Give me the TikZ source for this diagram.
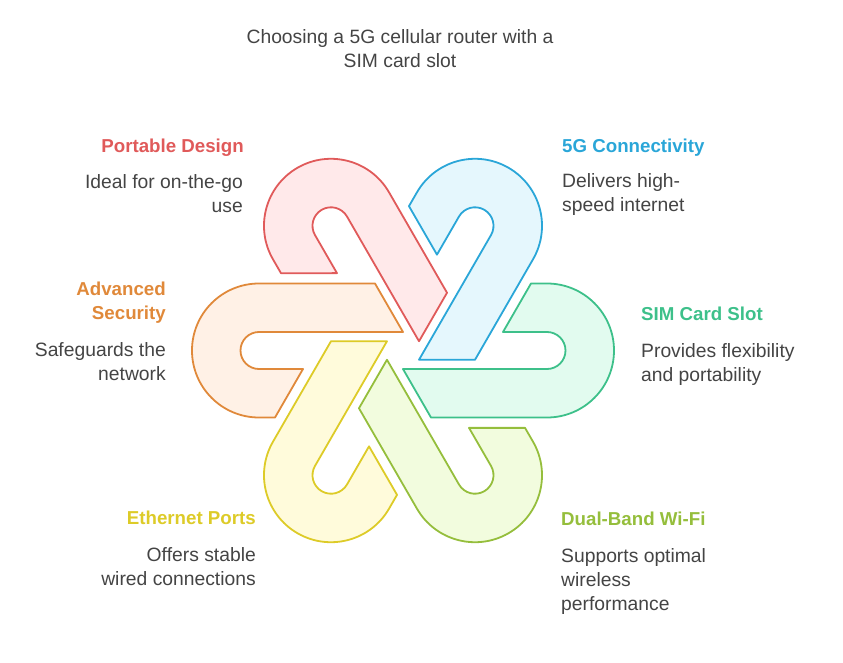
\documentclass[tikz,border=0pt]{standalone}
\usepackage{fontspec}
\setmainfont{Liberation Sans}
\usetikzlibrary{positioning}

\definecolor{redline}{HTML}{E05A5A}
\definecolor{redfill}{HTML}{FFE9EA}
\definecolor{blueline}{HTML}{2AA6D8}
\definecolor{bluefill}{HTML}{E5F7FD}
\definecolor{greenline}{HTML}{3DC08A}
\definecolor{greenfill}{HTML}{E2FBEF}
\definecolor{limeline}{HTML}{95BE3C}
\definecolor{limefill}{HTML}{F2FCDE}
\definecolor{yellowline}{HTML}{DDCB28}
\definecolor{yellowfill}{HTML}{FFFBDB}
\definecolor{orangeline}{HTML}{E0893A}
\definecolor{orangefill}{HTML}{FFF1E6}
\definecolor{descgray}{HTML}{444444}

\tikzset{
  hook/.pic={
    \path[pic actions] (-144,67) -- (-28,67) -- (0,18.5) -- (-144,18.5)
      arc[start angle=90, end angle=270, radius=18.5] -- (-100,-18.5)
      -- (-128,-67) -- (-144,-67)
      arc[start angle=270, end angle=90, radius=67] -- cycle;
  },
  piece/.style={line width=1.8pt, line join=round},
  head/.style={font=\fontsize{18.7}{24}\selectfont\bfseries, inner sep=0pt},
  desc/.style={font=\fontsize{19.3}{24}\selectfont, text=descgray, inner sep=0pt}
}

\begin{document}
\begin{tikzpicture}[x=1pt,y=1pt]
  \useasboundingbox (-403,-311.5) rectangle (440,350.5);
  \coordinate (hub) at (0,0);

  % the six hooks
  \pic[piece, draw=orangeline, fill=orangefill] (security) at (hub) {hook};
  \pic[piece, draw=redline, fill=redfill, rotate=-60] (portable) at (hub) {hook};
  \pic[piece, draw=blueline, fill=bluefill, rotate=-120] (fiveg) at (hub) {hook};
  \pic[piece, draw=greenline, fill=greenfill, rotate=180] (simslot) at (hub) {hook};
  \pic[piece, draw=limeline, fill=limefill, rotate=120] (wifi) at (hub) {hook};
  \pic[piece, draw=yellowline, fill=yellowfill, rotate=60] (ethernet) at (hub) {hook};

  \node[desc, align=center, anchor=north] (title) at (-3,320.8)
    {Choosing a 5G cellular router with a\\SIM card slot};

  % labels
  \node[head, text=redline, anchor=north east] (portable-head) at (-159,211.8) {Portable Design};
  \node[desc, align=right, anchor=north east] (portable-text) at (-160,175.8) {Ideal for on-the-go\\use};

  \node[head, text=blueline, anchor=north west] (fiveg-head) at (159,211.8) {5G Connectivity};
  \node[desc, align=left, anchor=north west] (fiveg-text) at (159,176.8) {Delivers high-\\speed internet};

  \node[head, text=orangeline, align=right, anchor=north east] (security-head) at (-237,68.8) {Advanced\\Security};
  \node[desc, align=right, anchor=north east] (security-text) at (-237,7.8) {Safeguards the\\network};

  \node[head, text=greenline, anchor=north west] (simslot-head) at (238,43.8) {SIM Card Slot};
  \node[desc, align=left, anchor=north west] (simslot-text) at (238,7.2) {Provides flexibility\\and portability};

  \node[head, text=yellowline, anchor=north east] (ethernet-head) at (-147,-160.2) {Ethernet Ports};
  \node[desc, align=right, anchor=north east] (ethernet-text) at (-147,-197.2) {Offers stable\\wired connections};

  \node[head, text=limeline, anchor=north west] (wifi-head) at (158,-161.2) {Dual-Band Wi-Fi};
  \node[desc, align=left, anchor=north west] (wifi-text) at (158,-197.8) {Supports optimal\\wireless\\performance};
\end{tikzpicture}
\end{document}
